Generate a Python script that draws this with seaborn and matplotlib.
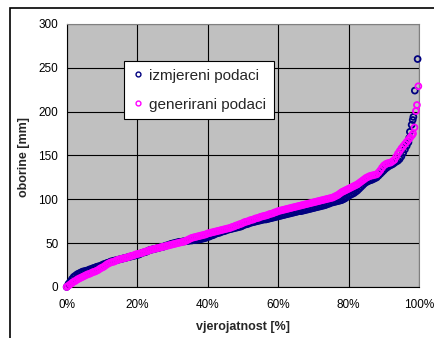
import numpy as np
import pandas as pd
import matplotlib
matplotlib.use("Agg")
import matplotlib.pyplot as plt
from matplotlib.lines import Line2D
from matplotlib.patches import Rectangle
import seaborn as sns

# Empirical probability curve of precipitation: measured vs generated data.
# Sorted amounts [mm] at their percent rank positions.
rain_measured = [
    0, 3.5, 6, 9, 11.5, 13, 14.5, 15.5, 16.5, 17.5,
    18, 18.5, 19, 20, 20.5, 21.5, 22, 23, 23.5, 24,
    25, 26, 26.5, 27.5, 28, 29, 29.5, 30, 30.5, 31,
    31.5, 32, 32.5, 33, 33.5, 34, 34.5, 35, 35.5, 36,
    36.5, 37, 38, 39, 39.5, 40, 41, 42, 42.5, 43,
    43.5, 44, 44.5, 45, 45.5, 46, 47, 47.5, 48, 49,
    49.5, 50, 50.5, 51, 51.5, 51.5, 52, 52, 52.5, 52.5,
    53, 53, 53.5, 53.5, 54, 54, 54.5, 55, 55.5, 56,
    57, 57.5, 58.5, 59, 60, 61, 61.5, 62, 63, 63.5,
    64, 65, 65.5, 66, 66.5, 67, 67.5, 68, 68.5, 69,
    70, 71, 71.5, 72, 73, 73.5, 74, 74.5, 75, 75.5,
    76, 76.5, 77, 77, 77.5, 78, 78.5, 79, 79.5, 80,
    80.5, 81, 81.5, 82, 82.5, 83, 83.5, 84, 84.5, 85,
    85.5, 86, 86.5, 86.5, 87, 87.5, 88, 88.5, 89, 89.5,
    90, 90.5, 91, 91.5, 92, 92.5, 93, 93.5, 94.5, 95,
    96, 96.5, 97, 97.5, 98, 98.5, 99, 100, 101, 102.5,
    104, 105, 106, 107, 108.5, 110, 112, 114, 116, 118,
    119.5, 120.5, 121.5, 122, 123, 124, 125, 127, 129, 131,
    133, 135, 136.5, 138, 139, 140, 141.5, 143, 144, 146,
    149, 153, 157, 161,
    165, 170, 177, 185, 190.5, 194, 224, 260,
]
pct_measured = [0.5 * i for i in range(194)] + [97, 97.2, 97.4, 97.9, 98.2, 98.4, 98.8, 99.6]

rain_generated = [
    0, 1.5, 3, 4.5, 6, 7, 8.5, 9.5, 10.5, 11.5,
    12.5, 13.5, 14.5, 15, 16, 17, 17.5, 18.5, 19.5, 21,
    22, 23, 24.5, 26, 27, 28, 28.5, 29, 30, 31,
    31.5, 32, 32.5, 33, 33.5, 34, 35, 35.5, 36, 37,
    37.5, 38, 38.5, 39, 40, 40.5, 41, 42, 42.5, 43,
    43.5, 44, 44.5, 45, 45.5, 46, 46.5, 47, 47.5, 48,
    48.5, 49, 49.5, 50, 50.5, 51, 51.5, 52, 53, 54,
    55, 56, 56.5, 57, 57.5, 58, 58.5, 59, 59.5, 60,
    61, 61.5, 62, 62.5, 63, 63.5, 64, 64.5, 65, 65.5,
    66, 66.5, 67, 67.5, 68.5, 69, 70, 70.5, 71.5, 72,
    73, 74, 74.5, 75, 76, 76.5, 77, 78, 78.5, 79,
    80, 80.5, 81, 81.5, 82, 83, 83.5, 84, 85, 85.5,
    86.5, 87, 87.5, 88, 88.5, 89, 89.5, 90, 90.5, 91,
    91.5, 92, 92.5, 93, 93.5, 94, 94.5, 95, 95.5, 96,
    96.5, 97, 97.5, 98, 98.5, 99, 99.5, 100, 100.5, 101,
    101.5, 102, 103, 104, 105, 106.5, 108, 109, 110, 111,
    112, 113, 114, 115, 116, 117, 118.5, 120, 121.5, 123,
    124.5, 125.5, 126.5, 127, 127.5, 128, 128.5, 130.5, 133, 136,
    138.5, 140, 141, 141.5, 142, 143.5, 145, 148.5, 152, 155,
    158, 160.5, 163, 165.5, 168, 170.5,
    173, 175, 182, 200.7, 207.6, 229,
]
pct_generated = [0.5 * i for i in range(196)] + [98, 98.3, 98.7, 99.1, 99.4, 99.8]

series_names = ["izmjereni podaci", "generirani podaci"]
series_colors = ["#000080", "#FF00FF"]
x_ticks = [0, 20, 40, 60, 80, 100]
x_tick_labels = ["0%", "20%", "40%", "60%", "80%", "100%"]
y_ticks = [0, 50, 100, 150, 200, 250, 300]

sns.set_theme(style="white")
plt.rcParams["font.family"] = ["Liberation Sans", "DejaVu Sans"]

fig = plt.figure(figsize=(4.35, 3.38), dpi=100)
ax = fig.add_axes([0.1533, 0.151, 0.810, 0.778])
ax.set_facecolor("#C0C0C0")

for pct, rain, color in [
    (pct_measured, rain_measured, series_colors[0]),
    (pct_generated, rain_generated, series_colors[1]),
]:
    df = pd.DataFrame({"p": pct, "r": rain})
    n_before = len(ax.collections)
    sns.scatterplot(data=df, x="p", y="r", ax=ax, marker="o", s=18,
                    color=color, legend=False, zorder=3, clip_on=False)
    coll = ax.collections[n_before]
    coll.set_facecolor("none")
    coll.set_edgecolor(color)
    coll.set_linewidth(1.3)

ax.set_xlim(0, 100)
ax.set_ylim(0, 300)
ax.set_xticks(x_ticks)
ax.set_xticklabels(x_tick_labels)
ax.set_yticks(y_ticks)
ax.grid(True, color="black", linewidth=0.8, zorder=1)
ax.set_axisbelow(True)

for side in ["top", "right"]:
    ax.spines[side].set_color("#808080")
    ax.spines[side].set_linewidth(0.8)
for side in ["left", "bottom"]:
    ax.spines[side].set_color("black")
    ax.spines[side].set_linewidth(0.8)

ax.tick_params(axis="both", which="major", labelsize=8.5, colors="black",
               direction="out", length=3, width=0.8)
ax.tick_params(axis="x", pad=6)
ax.tick_params(axis="y", pad=3)

ax.set_xlabel("vjerojatnost [%]", fontsize=9, fontweight="bold")
ax.set_ylabel("oborine [mm]", fontsize=9, fontweight="bold")
ax.xaxis.set_label_coords(0.5, -0.13)
ax.yaxis.set_label_coords(-0.105, 0.494)

handles = [
    Line2D([], [], linestyle="none", marker="o", markersize=3.5,
           markerfacecolor="none", markeredgecolor=c, markeredgewidth=1.0)
    for c in series_colors
]
leg = ax.legend(handles, series_names, loc="upper left",
                bbox_to_anchor=(0.164, 0.859), borderaxespad=0,
                fontsize=11, frameon=True, fancybox=False, shadow=False,
                handlelength=0.8, handletextpad=0.3, labelspacing=0.98,
                borderpad=0.5)
leg.get_frame().set_edgecolor("black")
leg.get_frame().set_facecolor("white")
leg.get_frame().set_linewidth(0.8)
leg.get_frame().set_alpha(1)

# Outer chart-area border
fig.add_artist(Rectangle((10 / 435, -0.1), 1.2, 1.1 - 8 / 338,
                         transform=fig.transFigure, fill=False,
                         edgecolor="black", linewidth=1.2))

fig.savefig("out.png", dpi=100, facecolor="white")
